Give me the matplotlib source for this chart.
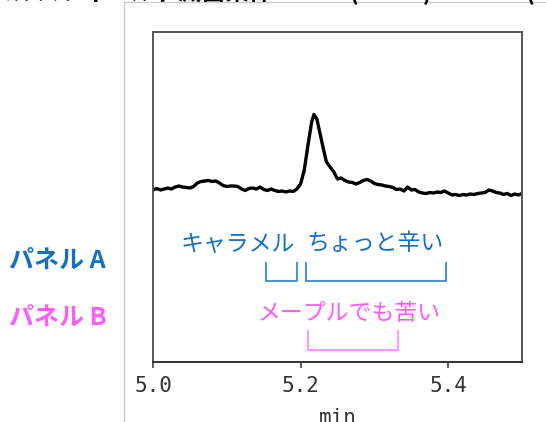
import matplotlib
matplotlib.use("Agg")
import matplotlib.pyplot as plt
from matplotlib.lines import Line2D

plt.rcParams['font.family'] = ['Noto Sans CJK JP', 'DejaVu Sans']

# chromatogram trace (min, signal in arbitrary units)
time = [5.000, 5.005, 5.010, 5.015, 5.020, 5.025, 5.030, 5.035, 5.040, 5.045,
        5.050, 5.055, 5.060, 5.065, 5.070, 5.075, 5.080, 5.085, 5.090, 5.095,
        5.100, 5.105, 5.110, 5.115, 5.120, 5.125, 5.130, 5.135, 5.140, 5.145,
        5.150, 5.155, 5.160, 5.165, 5.170, 5.175, 5.180, 5.185, 5.190, 5.195,
        5.200, 5.205, 5.210, 5.215, 5.218, 5.222, 5.225, 5.230, 5.235, 5.240,
        5.245, 5.250, 5.255, 5.260, 5.265, 5.270, 5.275, 5.280, 5.285, 5.290,
        5.295, 5.300, 5.305, 5.310, 5.315, 5.320, 5.325, 5.330, 5.335, 5.340,
        5.345, 5.350, 5.355, 5.360, 5.365, 5.370, 5.375, 5.380, 5.385, 5.390,
        5.395, 5.400, 5.405, 5.410, 5.415, 5.420, 5.425, 5.430, 5.435, 5.440,
        5.445, 5.450, 5.455, 5.460, 5.465, 5.470, 5.475, 5.480, 5.485, 5.490,
        5.495, 5.500]
signal = [172, 173.5, 172, 173, 174, 173, 175, 176, 175, 174.5,
          174, 175.5, 179, 180.5, 181, 181.5, 180.5, 181, 179, 176.5,
          175.5, 176, 176, 175.5, 173, 171.5, 173.5, 174, 173, 175,
          172.5, 171.5, 173, 171.5, 170.5, 171, 170, 171, 170.5, 173,
          178, 192, 217, 240, 247.5, 243, 233, 216, 200, 195,
          190, 183, 184, 181.5, 180, 179.5, 178, 179.5, 181.5, 182.5,
          181, 178.5, 177.5, 177, 176, 175.5, 174.5, 172.5, 173, 171,
          175, 172, 172.5, 170, 169, 168.5, 169.5, 169, 170, 169.5,
          171, 169, 167, 167.5, 166.5, 167.5, 167, 168, 167.5, 168.5,
          169, 169.5, 172, 171, 169.5, 169, 167.5, 168.5, 166.5, 168,
          167, 168.5]

xticks = [5.0, 5.2, 5.4]
xtick_labels = ["5.0", "5.2", "5.4"]

# bracket ranges in minutes: (start, end)
brackets_a = [(5.153, 5.195), (5.207, 5.397)]
bracket_b = (5.210, 5.332)
labels_a = ["キャラメル", "ちょっと辛い"]
label_b = "メープルでも苦い"

blue_txt = "#1670bd"
blue_line = "#4f93d2"
pink_txt = "#ff5cf5"
pink_line = "#ff99ff"

W, H = 546, 422
fig = plt.figure(figsize=(W / 100, H / 100), dpi=100)

ax = fig.add_axes([153 / W, (H - 362) / H, (522 - 153) / W, (362 - 32) / H])
ax.plot(time, signal, color="black", lw=2.4)
ax.set_xlim(5.0, 5.5)
ax.set_ylim(0, 330)
ax.set_yticks([])
ax.set_xticks(xticks)
ax.set_xticklabels(xtick_labels, family="DejaVu Sans Mono", fontsize=15, color="#333333")
ax.tick_params(axis="x", direction="out", length=4, width=1.2, color="#444444", pad=6)
ax.set_xlabel("min", family="DejaVu Sans Mono", fontsize=15, color="#333333", labelpad=8.5)
for side, sp in ax.spines.items():
    sp.set_color("#555555")
    sp.set_linewidth(1.4)
ax.spines["bottom"].set_color("#333333")

# brackets (x in data, y in pixel-based axes fraction)
def yfrac(py):
    return (362 - py) / 330

for (x0, x1), lab in zip(brackets_a, labels_a):
    ax.plot([x0, x0, x1, x1], [yfrac(263), yfrac(281), yfrac(281), yfrac(263)],
            color=blue_line, lw=1.5, transform=ax.get_xaxis_transform())
ax.text(5.115, yfrac(244), labels_a[0], color=blue_txt, fontsize=16.5,
        ha="center", va="center", transform=ax.get_xaxis_transform())
ax.text(5.301, yfrac(244), labels_a[1], color=blue_txt, fontsize=16.5,
        ha="center", va="center", transform=ax.get_xaxis_transform())
x0, x1 = bracket_b
ax.plot([x0, x0, x1, x1], [yfrac(331), yfrac(350), yfrac(350), yfrac(331)],
        color=pink_line, lw=1.5, transform=ax.get_xaxis_transform())
ax.text(5.266, yfrac(313), label_b, color=pink_txt, fontsize=16.5,
        ha="center", va="center", transform=ax.get_xaxis_transform())

# panel labels on the left
fig.text(9 / W, 1 - 261 / H, "パネル A", color=blue_txt, fontsize=18,
         fontweight="bold", ha="left", va="center")
fig.text(9 / W, 1 - 318 / H, "パネル B", color=pink_txt, fontsize=18,
         fontweight="bold", ha="left", va="center")

# light frame of the embedded picture
fig.add_artist(Line2D([124 / W, 124 / W], [0, 1 - 1.5 / H], color="#cccccc", lw=1))
fig.add_artist(Line2D([124 / W, 1], [1 - 1.5 / H, 1 - 1.5 / H], color="#cccccc", lw=1))

# title cut at the top edge
fig.text(-0.02, 1.0, "パルスフィールド滅菌条件 F80°C (7 min) vs 80°C (30 min)",
         fontsize=17, fontweight="bold", ha="left", va="baseline", color="black")

fig.savefig("out.png", dpi=100)
